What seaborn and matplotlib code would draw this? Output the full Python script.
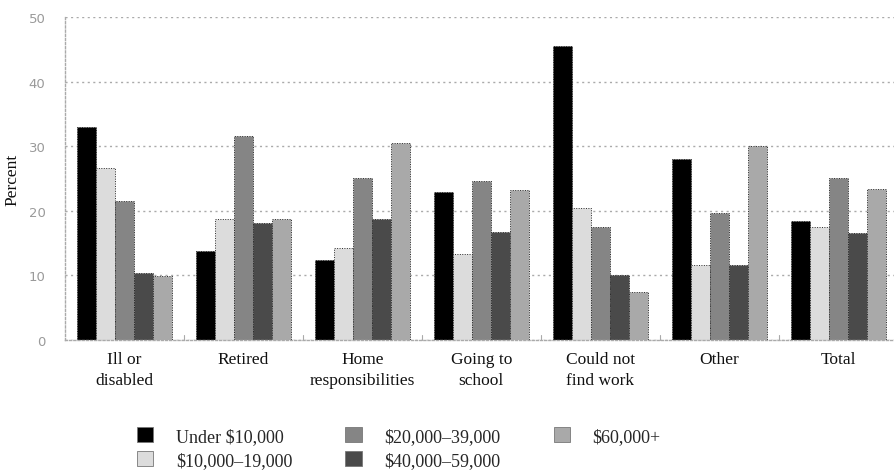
import matplotlib
matplotlib.use("Agg")
import matplotlib.pyplot as plt
import seaborn as sns
import pandas as pd
from matplotlib.patches import Patch
from matplotlib.ticker import MultipleLocator

categories = ["Ill or\ndisabled", "Retired", "Home\nresponsibilities", "Going to\nschool",
              "Could not\nfind work", "Other", "Total"]
series = ["Under $10,000", "$10,000\u201319,000", "$20,000\u201339,000", "$40,000\u201359,000", "$60,000+"]
under_10k = [33.0, 13.8, 12.4, 22.9, 45.5, 28.0, 18.4]
k10_19 = [26.6, 18.7, 14.2, 13.3, 20.4, 11.6, 17.5]
k20_39 = [21.5, 31.6, 25.1, 24.6, 17.5, 19.7, 25.1]
k40_59 = [10.4, 18.1, 18.7, 16.7, 10.1, 11.6, 16.5]
k60_plus = [9.9, 18.7, 30.5, 23.2, 7.4, 30.0, 23.4]
yticks = [0, 10, 20, 30, 40, 50]

values = [under_10k, k10_19, k20_39, k40_59, k60_plus]
colors = ["#000000", "#dcdcdc", "#858585", "#4a4a4a", "#a9a9a9"]

rows = []
for s, vals in zip(series, values):
    for c, v in zip(categories, vals):
        rows.append({"reason": c, "income": s, "pct": v})
df = pd.DataFrame(rows)

sns.set_theme(style="white")
plt.rcParams["font.family"] = ["Liberation Serif", "DejaVu Serif"]

fig = plt.figure(figsize=(8.95, 4.77), dpi=100)
ax = fig.add_axes([65 / 895, 1 - 341 / 477, 1 - 65 / 895 + 0.003, (341 - 18) / 477])

sns.barplot(data=df, x="reason", y="pct", hue="income", order=categories,
            hue_order=series, palette=colors, width=0.8, ax=ax,
            edgecolor="#2a2a2a", linewidth=0.7, legend=False, errorbar=None)
for p in ax.patches:
    p.set_linestyle((0, (1, 1.5)))

ax.set_ylim(0, 50)
ax.set_xlim(-0.5, len(categories) - 0.5)
ax.set_yticks(yticks)
ax.set_yticklabels([str(t) for t in yticks], family="DejaVu Sans", fontsize=9.5, color="#9a9a9a")
ax.yaxis.set_minor_locator(MultipleLocator(2))
ax.tick_params(axis="y", which="major", length=4, width=0.8, color="#aaaaaa", pad=14, direction="in")
ax.tick_params(axis="y", which="minor", length=2, width=0.6, color="#aaaaaa", direction="in")
ax.tick_params(axis="x", length=0, labelsize=12.5, pad=8, labelcolor="#111111")
for lbl in ax.get_xticklabels():
    lbl.set_linespacing(1.4)
ax.set_xlabel("")
ax.set_ylabel("Percent", fontsize=12.5, labelpad=6, color="#111111")

ax.grid(axis="y", color="#aaaaaa", linestyle=(0, (1.5, 2.5)), linewidth=1.0)
ax.set_axisbelow(True)
for s in ["top", "right"]:
    ax.spines[s].set_visible(False)
for s in ["left", "bottom"]:
    ax.spines[s].set_color("#aaaaaa")
    ax.spines[s].set_linestyle((0, (1.5, 1.5)))
    ax.spines[s].set_linewidth(1.0)

# small separator marks between category groups
for i in range(len(categories) - 1):
    ax.plot([i + 0.5, i + 0.5], [0, 0.8], color="#aaaaaa", lw=0.8, clip_on=False)

handles = [Patch(facecolor=c, edgecolor="#777777", linewidth=0.6) for c in colors]
fig.legend(handles, series, loc="upper left", bbox_to_anchor=(0.145, 0.117), ncol=3,
           frameon=False, fontsize=13, handlelength=0.9, handleheight=0.9,
           handletextpad=1.25, columnspacing=2.95, labelspacing=0.35, borderaxespad=0)

fig.savefig("out.png", dpi=100, facecolor="white")
